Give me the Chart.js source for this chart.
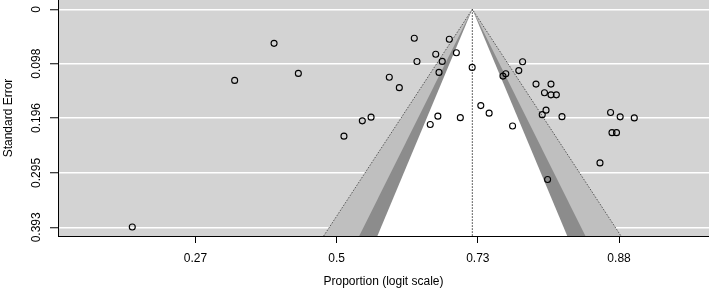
<!DOCTYPE html>
<html>
<head>
<meta charset="utf-8">
<script src="https://cdn.jsdelivr.net/npm/chart.js@4.4.1/dist/chart.umd.min.js"></script>
<style>
  html, body { margin: 0; padding: 0; background: #fff; overflow: hidden; }
  #wrap { width: 709px; height: 295px; }
</style>
</head>
<body>
<div id="wrap"><canvas id="funnel" width="709" height="295"></canvas></div>
<script>
// study estimates on the logit scale and their standard errors
const yi = [-1.447, -0.443, -0.722, -0.271, 0.052, 0.182, 0.244, 0.373, 0.444, 0.550,
            0.569, 0.702, 0.725, 0.748, 0.798, 0.848, 0.663, 0.717, 0.876, 0.960,
            1.021, 1.080, 1.246, 1.178, 1.198, 1.290, 1.317, 1.412, 1.472, 1.518,
            1.556, 1.483, 1.456, 1.596, 1.494, 1.865, 1.940, 2.008, 2.108, 1.950,
            1.982, 1.518];
const sei = [0.3924, 0.0614, 0.1282, 0.1155, 0.2287, 0.2011, 0.1944, 0.1226, 0.1412, 0.0522,
             0.0942, 0.0810, 0.1137, 0.0939, 0.0540, 0.0783, 0.2076, 0.1926, 0.1953, 0.1047,
             0.1736, 0.1872, 0.2103, 0.1204, 0.1162, 0.1105, 0.0946, 0.1348, 0.1505, 0.1542,
             0.1542, 0.1818, 0.1899, 0.1935, 0.3067, 0.2769, 0.1859, 0.1939, 0.1958, 0.2224,
             0.2224, 0.1348];

const estimate = 0.961;                 // pooled estimate (logit)
const contourZ = [2.576, 1.960, 1.645]; // 99%, 95%, 90% contours
const contourFill = ['#bfbfbf', '#8c8c8c', '#ffffff'];

const xTickValues = [-1, 0, 1, 2];
const xTickLabels = ['0.27', '0.5', '0.73', '0.88'];
const yTickValues = [0, 0.098, 0.196, 0.295, 0.393];
const yTickLabels = ['0', '0.098', '0.196', '0.295', '0.393'];

const X_MIN = -1.973, X_MAX = 2.637;
const Y_MIN = -0.0168, Y_MAX = 0.4087;

const font = { family: 'Liberation Sans, Arial, Helvetica, sans-serif', size: 12 };

// funnel shapes, from the apex (se = 0) down to the bottom of the plot
const contourSets = contourZ.map((z, i) => ({
  type: 'line',
  data: [
    { x: estimate, y: 0 },
    { x: estimate - z * Y_MAX, y: Y_MAX },
    { x: estimate + z * Y_MAX, y: Y_MAX },
    { x: estimate, y: 0 }
  ],
  backgroundColor: contourFill[i],
  borderWidth: 0,
  pointRadius: 0,
  fill: 'shape',
  tension: 0,
  order: 10 - i
}));

const outerEdge = {
  type: 'line',
  data: [
    { x: estimate - contourZ[0] * Y_MAX, y: Y_MAX },
    { x: estimate, y: 0 },
    { x: estimate + contourZ[0] * Y_MAX, y: Y_MAX }
  ],
  borderColor: '#3a3a3a',
  borderWidth: 0.8,
  borderDash: [1.5, 1.5],
  pointRadius: 0,
  fill: false,
  order: 3
};

const refLine = {
  type: 'line',
  data: [{ x: estimate, y: 0 }, { x: estimate, y: Y_MAX }],
  borderColor: '#000',
  borderWidth: 0.8,
  borderDash: [1.5, 1.5],
  pointRadius: 0,
  fill: false,
  order: 2
};

const studies = {
  type: 'scatter',
  data: yi.map((v, i) => ({ x: v, y: sei[i] })),
  pointRadius: 3,
  pointBorderWidth: 1.1,
  pointBorderColor: '#000',
  pointBackgroundColor: 'rgba(0,0,0,0)',
  order: 0
};

const plotBackground = {
  id: 'plotBackground',
  beforeDraw(chart) {
    const { ctx, chartArea: a } = chart;
    ctx.save();
    ctx.fillStyle = '#d3d3d3';
    ctx.fillRect(a.left, a.top, a.right - a.left, a.bottom - a.top);
    ctx.restore();
  }
};

new Chart(document.getElementById('funnel'), {
  type: 'scatter',
  data: { datasets: [studies, refLine, outerEdge, ...contourSets] },
  options: {
    responsive: false,
    animation: false,
    devicePixelRatio: 1,
    layout: { padding: 0, autoPadding: false },
    plugins: { legend: { display: false }, tooltip: { enabled: false } },
    scales: {
      x: {
        type: 'linear',
        min: X_MIN,
        max: X_MAX,
        afterBuildTicks: s => { s.ticks = xTickValues.map(v => ({ value: v })); },
        afterFit: s => { s.height = 59; s.paddingLeft = 0; s.paddingRight = 0; },
        ticks: {
          autoSkip: false, maxRotation: 0, padding: 8, color: '#000', font,
          callback: (v, i) => xTickLabels[i]
        },
        grid: { drawOnChartArea: false, tickColor: '#000', tickLength: 7, tickWidth: 1 },
        border: { color: '#000', width: 1 },
        title: { display: true, text: 'Proportion (logit scale)', color: '#000', font,
                 padding: { top: 0, bottom: 6 } }
      },
      y: {
        type: 'linear',
        reverse: true,
        min: Y_MIN,
        max: Y_MAX,
        afterBuildTicks: s => { s.ticks = yTickValues.map(v => ({ value: v })); },
        afterFit: s => { s.width = 58; s.paddingTop = 0; s.paddingBottom = 0; },
        ticks: {
          autoSkip: false, minRotation: 90, maxRotation: 90, crossAlign: 'center',
          padding: -2, color: '#000', font,
          callback: (v, i) => yTickLabels[i]
        },
        grid: { color: '#ffffff', lineWidth: 1.5, tickColor: '#000', tickLength: 8, tickWidth: 1 },
        border: { color: '#000', width: 1 },
        title: { display: true, text: 'Standard Error', color: '#000', font, padding: 1 }
      }
    }
  },
  plugins: [plotBackground]
});
</script>
</body>
</html>
